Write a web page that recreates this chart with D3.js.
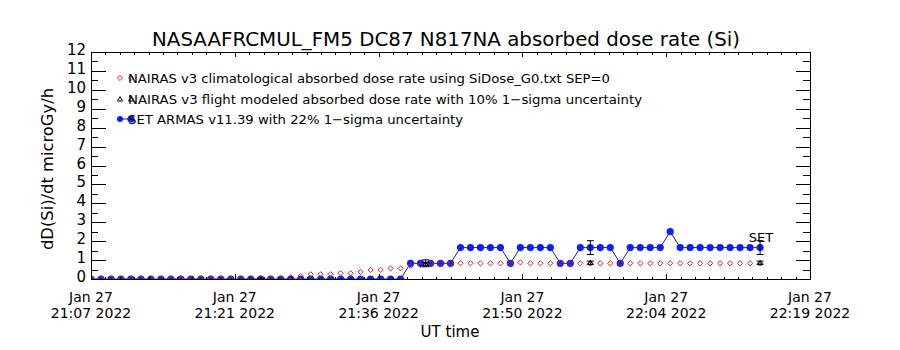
<!DOCTYPE html>
<html><head><meta charset="utf-8">
<script src="https://cdn.jsdelivr.net/npm/d3@7"></script>
<style>body{margin:0;background:#fff}svg{display:block}text{font-family:"DejaVu Sans",sans-serif;fill:#000}</style>
</head><body><svg id="c" width="900" height="350"></svg>
<script>
const title = "NASAAFRCMUL_FM5 DC87 N817NA absorbed dose rate (Si)";
const yLabel = "dD(Si)/dt microGy/h";
const xLabel = "UT time";
const legendLabels = [
  "NAIRAS v3 climatological absorbed dose rate using SiDose_G0.txt SEP=0",
  "NAIRAS v3 flight modeled absorbed dose rate with 10% 1\u2212sigma uncertainty",
  "SET ARMAS v11.39 with 22% 1\u2212sigma uncertainty"
];
const xTickLabels = [["Jan 27","21:07 2022"],["Jan 27","21:21 2022"],["Jan 27","21:36 2022"],["Jan 27","21:50 2022"],["Jan 27","22:04 2022"],["Jan 27","22:19 2022"]];
const yTickValues = [0,1,2,3,4,5,6,7,8,9,10,11,12];
const startTime = "2022-01-27T21:07:00Z";
const endTime = "2022-01-27T22:19:00Z";
// minute index of each sample from start
const minutes = d3.range(0, 68);
const climatological = [0.03,0.03,0.03,0.03,0.03,0.03,0.03,0.03,0.03,0.03,0.03,0.03,0.03,0.03,0.03,0.03,0.03,0.03,0.03,0.03,
  0.09,0.16,0.25,0.25,0.25,0.30,0.30,0.37,0.48,0.48,0.56,0.56,0.69,0.74,0.83,0.83,0.83,0.83,0.83,0.83,0.83,0.83,0.83,0.88,
  0.83,0.83,0.83,0.83,0.83,0.83,0.83,0.83,0.83,0.83,0.83,0.83,0.83,0.83,0.83,0.83,0.83,0.83,0.83,0.83,0.83,0.83,0.83,0.83];
const armas = [0,0,0,0,0,0,0,0,0,0,0,0,0,0,0,0,0,0,0,0,0,0,0,0,0,0,0,0,0,0,0,0,
  0.83,0.83,0.83,0.83,0.83,1.66,1.66,1.66,1.66,1.66,0.83,1.66,1.66,1.66,1.66,0.83,0.83,1.66,1.66,1.66,1.66,0.83,
  1.66,1.66,1.66,1.66,2.5,1.66,1.66,1.66,1.66,1.66,1.66,1.66,1.66,1.66];
const flightMinutes = [17, 33.5, 50, 67];
const flightValues = [0.0, 0.80, 0.86, 0.86];
const armasErrMinutes = [17, 33.5, 50, 67];
const armasErrValues = [0.0, 0.83, 1.66, 1.66];
const setLabel = "SET";

const svg = d3.select("#c");
svg.append("rect").attr("width",900).attr("height",350).attr("fill","#fff");
const L=91,R=810,T=52,B=279;
svg.append("defs").append("clipPath").attr("id","pc").append("rect").attr("x",L).attr("y",T).attr("width",R-L).attr("height",B-T);
const t0 = new Date(startTime), t1 = new Date(endTime);
const x = d3.scaleTime().domain([t0,t1]).range([L,R]);
const y = d3.scaleLinear().domain([0,12]).range([B,T]);
const tm = m => new Date(t0.getTime() + m*60000);
const stepMs = (t1-t0)/5;
const majors = d3.range(6).map(i => new Date(t0.getTime()+i*stepMs));
const minors = d3.range(51).map(i => new Date(t0.getTime()+i*stepMs/10));

const plot = svg.append("g").attr("clip-path","url(#pc)");
const diamond = (cx,cy,r)=>`M${cx},${cy-r}L${cx+r},${cy}L${cx},${cy+r}L${cx-r},${cy}Z`;
const tri = (cx,cy,r)=>`M${cx},${cy-r}L${cx+r},${cy+r*0.8}L${cx-r},${cy+r*0.8}Z`;
// ARMAS line + points
const armasData = minutes.map((m,i)=>({t:tm(m),v:armas[i]}));
plot.append("path").datum(armasData).attr("fill","none").attr("stroke","#1a1aa0").attr("stroke-width",1)
  .attr("d",d3.line().x(d=>x(d.t)).y(d=>y(d.v)));
plot.selectAll("circle.a").data(armasData).join("circle").attr("class","a")
  .attr("cx",d=>x(d.t)).attr("cy",d=>y(d.v)).attr("r",3.6).attr("fill","#0a1eff");
// climatological diamonds
const climData = minutes.map((m,i)=>({t:tm(m),v:climatological[i]}));
plot.selectAll("path.c").data(climData).join("path").attr("class","c")
  .attr("d",d=>diamond(x(d.t),y(d.v),2.6)).attr("fill","none").attr("stroke","#d42020").attr("stroke-width",1);
// error bars
const eb = (g,cx,v,frac)=>{
  const lo=y(v*(1-frac)), hi=y(v*(1+frac));
  g.append("line").attr("x1",cx).attr("x2",cx).attr("y1",lo).attr("y2",hi).attr("stroke","#000");
  g.append("line").attr("x1",cx-3.5).attr("x2",cx+3.5).attr("y1",lo).attr("y2",lo).attr("stroke","#000");
  g.append("line").attr("x1",cx-3.5).attr("x2",cx+3.5).attr("y1",hi).attr("y2",hi).attr("stroke","#000");
};
armasErrMinutes.forEach((m,i)=>eb(plot,x(tm(m)),armasErrValues[i],0.22));
flightMinutes.forEach((m,i)=>{
  eb(plot,x(tm(m)),flightValues[i],0.10);
  plot.append("path").attr("d",tri(x(tm(m)),y(flightValues[i]),2.5)).attr("fill","none").attr("stroke","#000");
});
svg.append("text").attr("x",x(tm(67))+1).attr("y",242).attr("text-anchor","middle").attr("font-size",13).text(setLabel);

// frame
svg.append("rect").attr("x",L).attr("y",T).attr("width",R-L).attr("height",B-T).attr("fill","none").attr("stroke","#000").attr("stroke-width",1).attr("shape-rendering","crispEdges");

// x axes
const xb = d3.axisBottom(x).tickValues(minors).tickSize(-2.5).tickFormat("");
const xb2 = d3.axisBottom(x).tickValues(majors).tickSize(-5).tickFormat("");
const xt = d3.axisTop(x).tickValues(minors).tickSize(-2.5).tickFormat("");
const xt2 = d3.axisTop(x).tickValues(majors).tickSize(-5).tickFormat("");
[ [xb,B],[xb2,B],[xt,T],[xt2,T] ].forEach(([a,p])=>{
  const g=svg.append("g").attr("transform",`translate(0,${p})`).call(a);
  g.select(".domain").remove();
  g.selectAll("line").attr("stroke","#000").attr("shape-rendering","crispEdges");
});
// y axes
const yMin = d3.range(0,12.01,0.5);
const yl = d3.axisLeft(y).tickValues(yMin).tickSize(-7).tickFormat("");
const yl2 = d3.axisLeft(y).tickValues(yTickValues).tickSize(-14.5).tickFormat("");
const yr = d3.axisRight(y).tickValues(yMin).tickSize(-7).tickFormat("");
const yr2 = d3.axisRight(y).tickValues(yTickValues).tickSize(-14.5).tickFormat("");
[[yl,L],[yl2,L],[yr,R],[yr2,R]].forEach(([a,p])=>{
  const g=svg.append("g").attr("transform",`translate(${p},0)`).call(a);
  g.select(".domain").remove();
  g.selectAll("line").attr("stroke","#000").attr("shape-rendering","crispEdges");
});
// y tick labels
svg.append("g").selectAll("text").data(yTickValues).join("text")
  .attr("x",86).attr("y",d=>y(d)+3).attr("text-anchor","end").attr("font-size",15).text(d=>d);
// x tick labels
const xl = svg.append("g").selectAll("g").data(majors).join("g");
xl.append("text").attr("x",d=>x(d)).attr("y",302).attr("text-anchor","middle").attr("font-size",14).text((d,i)=>xTickLabels[i][0]);
xl.append("text").attr("x",d=>x(d)).attr("y",318).attr("text-anchor","middle").attr("font-size",14).text((d,i)=>xTickLabels[i][1]);

// titles
svg.append("text").attr("x",446).attr("y",46).attr("text-anchor","middle").attr("font-size",19).attr("textLength",588).attr("lengthAdjust","spacingAndGlyphs").text(title);
svg.append("text").attr("x",450).attr("y",337).attr("text-anchor","middle").attr("font-size",15).text(xLabel);
svg.append("text").attr("transform","translate(53,169) rotate(-90)").attr("text-anchor","middle").attr("font-size",15).attr("textLength",162).attr("lengthAdjust","spacingAndGlyphs").text(yLabel);

// legend
const ly=[78,99,119];
const lg = svg.append("g");
lg.append("path").attr("d",diamond(120,ly[0],2.6)).attr("fill","none").attr("stroke","#d42020");
lg.append("path").attr("d",diamond(131,ly[0],2.6)).attr("fill","none").attr("stroke","#d42020");
lg.append("path").attr("d",tri(120,ly[1],2.5)).attr("fill","none").attr("stroke","#000");
lg.append("path").attr("d",tri(131,ly[1],2.5)).attr("fill","none").attr("stroke","#000");
lg.append("line").attr("x1",120).attr("x2",131).attr("y1",ly[2]).attr("y2",ly[2]).attr("stroke","#1a1aa0");
lg.append("circle").attr("cx",120).attr("cy",ly[2]).attr("r",3).attr("fill","#0a1eff");
lg.append("circle").attr("cx",131).attr("cy",ly[2]).attr("r",3.6).attr("fill","#0a1eff");
const lw=[482,514,335];
lg.selectAll("text").data(legendLabels).join("text").attr("x",128).attr("y",(d,i)=>ly[i]+5)
  .attr("font-size",13).attr("textLength",(d,i)=>lw[i]).attr("lengthAdjust","spacingAndGlyphs").text(d=>d);
</script></body></html>
